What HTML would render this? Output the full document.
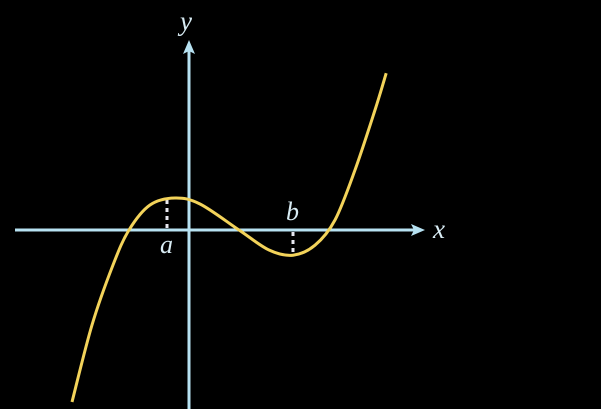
<!DOCTYPE html>
<html><head><meta charset="utf-8"><style>
html,body{margin:0;padding:0;background:#000;}
svg{display:block;}
text{font-family:"Liberation Serif",serif;font-style:italic;fill:#d8ecf4;}
</style></head><body>
<svg id="chart" width="601" height="409" viewBox="0 0 601 409">
<rect x="0" y="0" width="601" height="409" fill="#000"/>
<g id="axes">
<line x1="15" y1="230" x2="418" y2="230" stroke="#b7e2f2" stroke-width="3"/>
<polygon points="425,230 411,224 414,230 411,236" fill="#b7e2f2"/>
<line x1="189" y1="409" x2="189" y2="48" stroke="#b7e2f2" stroke-width="3"/>
<polygon points="189,40 183,54 189,51 195,54" fill="#b7e2f2"/>
<text x="433" y="238" font-size="27">x</text>
<text x="180" y="30" font-size="27">y</text>
</g>
<g id="marks"></g>
</svg>
<script>
// curve samples (math units: 1 unit = 40px)
const xs = [-2.925, -2.425, -1.9, -1.5, -0.975, -0.35, 0.275, 1.25, 2.0, 2.6, 3.15, 3.65, 4.15, 4.65, 4.93];
const ys = [-4.3, -2.375, -0.875, 0.0, 0.625, 0.8, 0.65, 0.0, -0.5, -0.63, -0.38, 0.25, 1.5, 3.0, 3.92];
const criticalXs = [-0.55, 2.6];
const criticalYs = [0.78, -0.63];
const criticalLabels = ["a", "b"];
const ox = 189, oy = 230, unit = 40;
const sx = v => ox + v * unit;
const sy = v => oy - v * unit;
const NS = "http://www.w3.org/2000/svg";
const g = document.getElementById("marks");
const P = xs.map((x, i) => [sx(x), sy(ys[i])]);
let d = "M" + P[0][0] + "," + P[0][1];
for (let i = 0; i < P.length - 1; i++) {
  const p0 = P[i - 1] || P[i], p1 = P[i], p2 = P[i + 1], p3 = P[i + 2] || P[i + 1];
  const c1 = [p1[0] + (p2[0] - p0[0]) / 6, p1[1] + (p2[1] - p0[1]) / 6];
  const c2 = [p2[0] - (p3[0] - p1[0]) / 6, p2[1] - (p3[1] - p1[1]) / 6];
  d += " C" + c1 + " " + c2 + " " + p2;
}
criticalXs.forEach((cx, i) => {
  const l = document.createElementNS(NS, "line");
  
  
  l.setAttribute("x1", sx(cx)); l.setAttribute("x2", sx(cx));
  l.setAttribute("y1", oy - 2 * Math.sign(criticalYs[i])); l.setAttribute("y2", sy(criticalYs[i]));
  l.setAttribute("stroke", "#e8e8f0"); l.setAttribute("stroke-width", "3");
  l.setAttribute("stroke-dasharray", "4,4");
  g.appendChild(l);
  const t = document.createElementNS(NS, "text");
  
  
  t.setAttribute("x", sx(cx) - 7);
  t.setAttribute("y", criticalYs[i] > 0 ? oy + 23 : oy - 10);
  t.setAttribute("font-size", "26");
  t.textContent = criticalLabels[i];
  g.appendChild(t);
});
const path = document.createElementNS(NS, "path");


path.setAttribute("d", d);
path.setAttribute("fill", "none");
path.setAttribute("stroke", "#f3d35a");
path.setAttribute("stroke-width", "3");
g.appendChild(path);
</script>
</body></html>
